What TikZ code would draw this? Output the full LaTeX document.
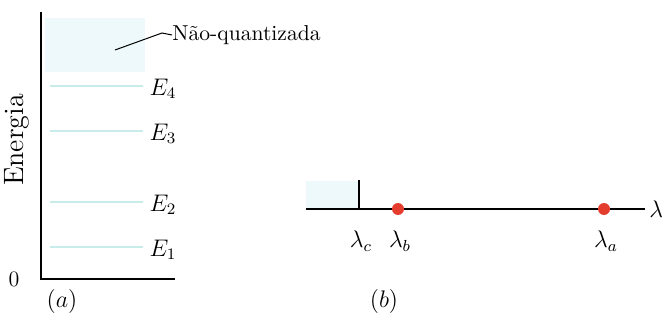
\documentclass[tikz,border=0pt]{standalone}
\usepackage{amsmath}
\definecolor{lvl}{RGB}{200,236,234}
\definecolor{shadecol}{RGB}{238,249,251}
\definecolor{dotred}{RGB}{228,60,45}
\begin{document}
\begin{tikzpicture}[x=0.5pt,y=-0.5pt,
  axis/.style={line width=0.8pt,black},
  level/.style={line width=1.2pt,lvl},
  lbl/.style={inner sep=0pt,font=\fontsize{11}{13}\selectfont},
  reddot/.style={circle,fill=dotred,inner sep=0pt,minimum size=6pt}]
\useasboundingbox (0,0) rectangle (665,326);
% (a)
\fill[shadecol] (45,18) rectangle (145,72);
\coordinate (top) at (41,12);
\coordinate (orig) at (41,279);
\coordinate (xend) at (175,279);
\draw[axis] (top) -- (orig) -- (xend);
\node[lbl] (zero) at (14,279) {0};
\node[lbl,rotate=90,font=\fontsize{14}{16}\selectfont] (energia) at (17,140) {Energia};
\foreach \y/\n/\l in {86/4/e4,131/3/e3,202/2/e2,247/1/e1}{
  \coordinate (\l a) at (50,\y);
  \coordinate (\l b) at (143,\y);
  \draw[level] (\l a) -- (\l b);
  \node[lbl,font=\fontsize{12}{14}\selectfont] (\l) at (163,\y+3) {$E_{\n}$};
}
\node[lbl,anchor=west,font=\fontsize{10.8}{13}\selectfont] (nq) at (172,35) {Não-quantizada};
\coordinate (nqp) at (115,50);
\coordinate (nqk) at (162,33);
\draw[line width=0.5pt] (nqp) -- (nqk) -- (nq.west);
\node[lbl,font=\fontsize{12}{14}\selectfont] (pa) at (62,301) {$(a)$};
% (b)
\fill[shadecol] (306,181) rectangle (358,208);
\coordinate (la) at (306,209);
\coordinate (lb) at (645,209);
\draw[axis] (la) -- (lb);
\node[lbl,anchor=west,font=\fontsize{12}{14}\selectfont] (lam) at (649,209) {$\lambda$};
\coordinate (tc) at (359,180);
\coordinate (tcb) at (359,209);
\draw[axis] (tc) -- (tcb);
\node[reddot] (db) at (398,209) {};
\node[reddot] (da) at (604,209) {};
\node[lbl,font=\fontsize{12}{14}\selectfont] (lc) at (361,241) {$\lambda_c$};
\node[lbl,font=\fontsize{12}{14}\selectfont] (lbn) at (400,241) {$\lambda_b$};
\node[lbl,font=\fontsize{12}{14}\selectfont] (lan) at (606,241) {$\lambda_a$};
\node[lbl,font=\fontsize{12}{14}\selectfont] (pb) at (384,301) {$(b)$};
\end{tikzpicture}
\end{document}
